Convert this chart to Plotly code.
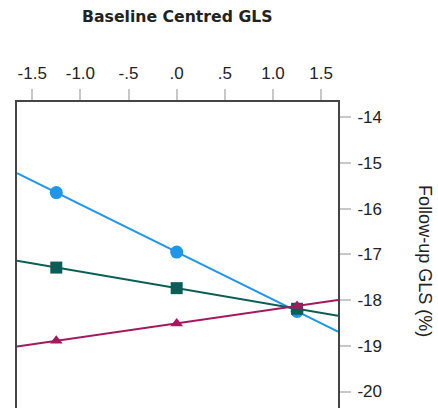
import numpy as np
import plotly.graph_objects as go

x_vals = [-1.25, 0.0, 1.25]
blue_vals = [-15.65, -16.95, -18.25]
green_vals = [-17.29, -17.74, -18.19]
red_vals = [-18.89, -18.51, -18.13]

x_ticks = [-1.5, -1.0, -0.5, 0.0, 0.5, 1.0, 1.5]
x_tick_labels = ["-1.5", "-1.0", "-.5", ".0", ".5", "1.0", "1.5"]
y_ticks = [-14, -15, -16, -17, -18, -19, -20]
y_tick_labels = ["-14", "-15", "-16", "-17", "-18", "-19", "-20"]

x_range = [-1.658, 1.675]
y_range = [-20.36, -13.67]

series = [
    ("blue", blue_vals, "#1f96e8", "circle", 13),
    ("green", green_vals, "#0b5e55", "square", 12),
    ("red", red_vals, "#a5185f", "triangle-up", 11),
]

fig = go.Figure()
for name, vals, color, sym, size in series:
    slope, icpt = np.polyfit(x_vals, vals, 1)
    xs = np.array(x_range)
    fig.add_trace(go.Scatter(x=xs, y=slope * xs + icpt, mode="lines",
                             line=dict(color=color, width=2), showlegend=False,
                             hoverinfo="skip"))
    fig.add_trace(go.Scatter(x=x_vals, y=vals, mode="markers",
                             marker=dict(color=color, symbol=sym, size=size, line=dict(width=0)),
                             showlegend=False, name=name))

fig.update_layout(
    width=438, height=408,
    margin=dict(l=17, r=100, t=102, b=0),
    paper_bgcolor="white", plot_bgcolor="white",
    font=dict(family="Liberation Sans, Arial, sans-serif", size=17, color="#222"),
    xaxis=dict(side="top", range=x_range, tickvals=x_ticks, ticktext=x_tick_labels,
               showgrid=False, zeroline=False, showline=True, linecolor="#444", linewidth=2,
               ticks="outside", ticklen=11, tickwidth=2, tickcolor="#c8c8c8",
               ticklabelstandoff=3),
    yaxis=dict(side="right", range=y_range, tickvals=y_ticks, ticktext=y_tick_labels,
               showgrid=False, zeroline=False, showline=True, mirror=True,
               linecolor="#444", linewidth=2,
               ticks="outside", ticklen=11, tickwidth=2, tickcolor="#c8c8c8",
               ticklabelstandoff=3),
    annotations=[
        dict(text="<b>Baseline Centred GLS</b>", xref="paper", yref="paper",
             x=0.5, y=1, yshift=86, xanchor="center", yanchor="middle", showarrow=False,
             font=dict(family="DejaVu Sans, sans-serif", size=15.7, color="#222")),
        dict(text="Follow-up GLS (%)", xref="paper", yref="paper",
             x=1, xshift=87, y=0.48, xanchor="center", yanchor="middle", showarrow=False,
             textangle=90, font=dict(family="Liberation Sans, Arial, sans-serif", size=18, color="#222")),
    ],
)

fig.write_html("out.html")
